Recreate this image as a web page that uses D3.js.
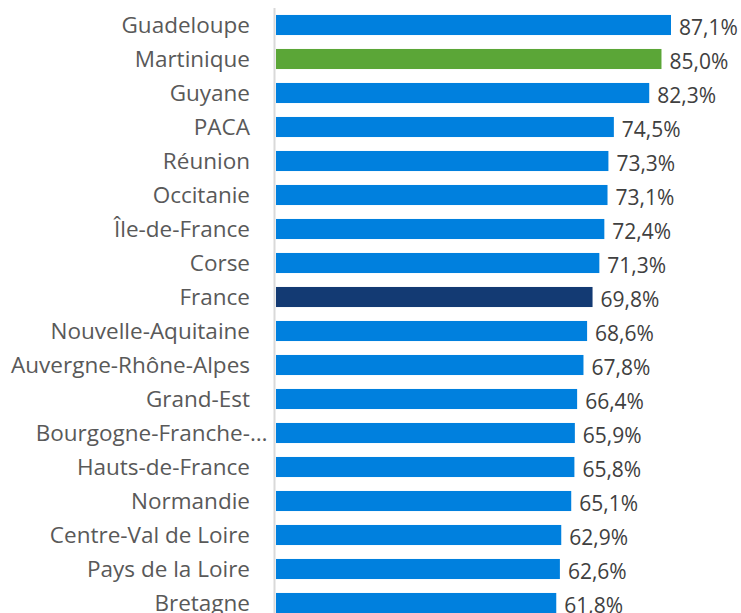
<!DOCTYPE html>
<html>
<head>
<meta charset="utf-8">
<script src="https://cdn.jsdelivr.net/npm/d3@7"></script>
<style>
  body { margin: 0; background: #fff; }
  text { font-family: "Open Sans", sans-serif; }
</style>
</head>
<body>
<div id="chart-wrapper"></div>
<script>
let width = 741
let height = 613
let regions = [
  "Guadeloupe", "Martinique", "Guyane", "PACA", "Réunion", "Occitanie",
  "Île-de-France", "Corse", "France", "Nouvelle-Aquitaine",
  "Auvergne-Rhône-Alpes", "Grand-Est", "Bourgogne-Franche-…",
  "Hauts-de-France", "Normandie", "Centre-Val de Loire", "Pays de la Loire",
  "Bretagne"
]
let values = [
  87.1, 85.0, 82.3, 74.5, 73.3, 73.1, 72.4, 71.3, 69.8, 68.6,
  67.8, 66.4, 65.9, 65.8, 65.1, 62.9, 62.6, 61.8
]
let highlight = { "Martinique": "#5ba637", "France": "#133a73" }
let color = "#0080de"

let data = regions.map((r, i) => ({ name: r, value: values[i] }))

let margin = { top: 8, left: 276 }

let svg = d3.select("#chart-wrapper")
  .append("svg")
  .attr("width", width)
  .attr("height", height)

let graph = svg.append("g")
  .attr("transform", `translate(${margin.left},${margin.top})`)

// scales
let x = d3.scaleLinear()
  .domain([0, 87.1])
  .range([0, 395])
let y = d3.scaleBand()
  .domain(regions)
  .range([0, regions.length * 34])
  .paddingInner(0.41)
  .paddingOuter(0.205)

// bars
graph.selectAll("rect")
  .data(data)
  .enter()
  .append("rect")
  .attr("x", 0)
  .attr("y", d => y(d.name))
  .attr("width", d => x(d.value))
  .attr("height", y.bandwidth())
  .attr("fill", d => highlight[d.name] || color)

// axis line
graph.append("line")
  .attr("x1", -1.5).attr("x2", -1.5)
  .attr("y1", 0).attr("y2", height)
  .attr("stroke", "#d9d9d9")
  .attr("stroke-width", 2)

// category labels
let labelSize = 22.5
graph.selectAll(".cat")
  .data(data)
  .enter()
  .append("text")
  .attr("class", "cat")
  .attr("x", -26)
  .attr("y", d => y(d.name) + y.bandwidth() / 2)
  .attr("dy", "0.35em")
  .attr("text-anchor", "end")
  .attr("font-size", labelSize)
  .attr("fill", "#595959")
  .text(d => d.name.endsWith("…") ? d.name.slice(0, -1) : d.name)

// trailing ellipsis hangs past the label edge
graph.selectAll(".ell")
  .data(data.filter(d => d.name.endsWith("…")))
  .enter()
  .append("text")
  .attr("class", "ell")
  .attr("x", -26)
  .attr("y", d => y(d.name) + y.bandwidth() / 2)
  .attr("dy", "0.35em")
  .attr("font-size", labelSize)
  .attr("fill", "#595959")
  .text("…")

// value labels
graph.selectAll(".val")
  .data(data)
  .enter()
  .append("text")
  .attr("class", "val")
  .attr("x", d => x(d.value) + 8)
  .attr("y", d => y(d.name) + y.bandwidth() / 2 + 3)
  .attr("dy", "0.35em")
  .attr("font-size", 21)
  .attr("fill", "#404040")
  .text(d => d.value.toFixed(1).replace(".", ",") + "%")
</script>
</body>
</html>
